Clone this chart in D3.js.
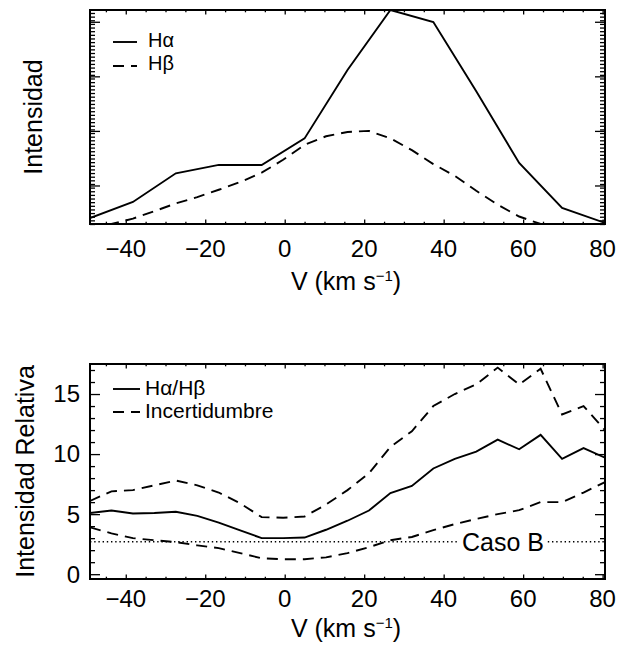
<!DOCTYPE html>
<html><head><meta charset="utf-8">
<script src="https://cdnjs.cloudflare.com/ajax/libs/d3/7.8.5/d3.min.js"></script>
<style>
body{margin:0;background:#fff;}
svg{display:block;}
text{font-family:"Liberation Sans",Arial,sans-serif;fill:#000;}
</style></head><body>
<svg id="c" width="620" height="653"></svg>
<script>
// ---- data ----
const velCoarse = [-49, -38.2, -27.4, -16.6, -5.8, 5, 15.8, 26.6, 37.4, 48.2, 59, 69.8, 80.6];
const haProfile = [0.028, 0.103, 0.237, 0.276, 0.276, 0.40, 0.72, 1.0, 0.944, 0.62, 0.285, 0.075, 0.005];

const velFine = [-49, -43.6, -38.2, -32.8, -27.4, -22, -16.6, -11.2, -5.8, -0.4, 5, 10.4, 15.8,
                 21.2, 26.6, 32, 37.4, 42.8, 48.2, 53.6, 59, 64.4, 69.8, 75.2, 80.6];
const hbProfile = [0, 0, 0.025, 0.06, 0.096, 0.126, 0.16, 0.196, 0.24, 0.30, 0.37, 0.41, 0.43,
                   0.435, 0.40, 0.345, 0.28, 0.225, 0.155, 0.09, 0.035, 0, null, null, null];

const ratio      = [5.1, 5.3, 5.05, 5.1, 5.2, 4.85, 4.3, 3.65, 3.0, 3.0, 3.05, 3.7, 4.45,
                    5.3, 6.75, 7.35, 8.8, 9.6, 10.2, 11.2, 10.4, 11.6, 9.6, 10.5, 9.7];
const ratioUpper = [6.1, 6.9, 7.0, 7.4, 7.8, 7.4, 6.8, 5.9, 4.75, 4.7, 4.8, 5.8, 7.0,
                    8.4, 10.6, 11.9, 14.0, 15.0, 15.8, 17.2, 15.8, 17.1, 13.3, 14.0, 12.0];
const ratioLower = [3.9, 3.4, 3.0, 2.83, 2.67, 2.4, 2.17, 1.75, 1.33, 1.25, 1.25, 1.4, 1.75,
                    2.25, 2.83, 3.1, 3.67, 4.17, 4.6, 5.0, 5.33, 6.0, 6.0, 6.8, 7.67];
const casoB = 2.7;

const xTicks = [-40, -20, 0, 20, 40, 60, 80];
const ratioTicks = [0, 5, 10, 15];
const topYMajor = [0.18, 0.435, 0.69, 0.945];

const legendTop = ["Hα", "Hβ"];
const legendBottom = ["Hα/Hβ", "Incertidumbre"];

// ---- drawing ----
const svg = d3.select("#c");
const L = 90, R = 605;
const P1 = {t: 10, b: 224}, P2 = {t: 364, b: 579};
const xDom = [-49, 80.6];
const x1 = d3.scaleLinear().domain(xDom).range([L, R]);
const y1 = d3.scaleLinear().domain([0, 1]).range([P1.b, P1.t]);
const x2 = d3.scaleLinear().domain(xDom).range([L, R]);
const y2 = d3.scaleLinear().domain([-0.4, 17.5]).range([P2.b, P2.t]);

const fmt = d => d < 0 ? "\u2212" + Math.abs(d) : String(d);
const xMinor = d3.range(-45, 81, 5).filter(v => v % 20 !== 0);

function ticks(g, axisFn, scale, vals, len, tr) {
  const a = axisFn(scale).tickValues(vals).tickSize(len).tickFormat("");
  const s = g.append("g").attr("transform", tr).call(a);
  s.select(".domain").remove();
  s.selectAll("line").attr("stroke", "#000").attr("stroke-width", 1.3);
}

function frame(x, y, P, yMajor, yMinor, id) {
  const g = svg.append("g");
  ticks(g, d3.axisBottom, x, xTicks, -4.5, `translate(0,${P.b})`);
  ticks(g, d3.axisBottom, x, xMinor, -2.3, `translate(0,${P.b})`);
  ticks(g, d3.axisTop, x, xTicks, -4.5, `translate(0,${P.t})`);
  ticks(g, d3.axisTop, x, xMinor, -2.3, `translate(0,${P.t})`);
  ticks(g, d3.axisLeft, y, yMajor, -10, `translate(${L},0)`);
  ticks(g, d3.axisLeft, y, yMinor, -5, `translate(${L},0)`);
  ticks(g, d3.axisRight, y, yMajor, -10, `translate(${R},0)`);
  ticks(g, d3.axisRight, y, yMinor, -5, `translate(${R},0)`);
  g.append("rect").attr("x", L).attr("y", P.t).attr("width", R - L).attr("height", P.b - P.t)
    .attr("fill", "none").attr("stroke", "#000").attr("stroke-width", 2);
  svg.append("clipPath").attr("id", id).append("rect")
    .attr("x", L).attr("y", P.t).attr("width", R - L).attr("height", P.b - P.t);
}

// Top panel
const topMinor = d3.range(0, 1.0001, 0.017);
frame(x1, y1, P1, topYMajor, topMinor, "clip1");
const gTop = svg.append("g").attr("clip-path", "url(#clip1)");
const lineTop = d3.line().defined(d => d[1] !== null).x(d => x1(d[0])).y(d => y1(d[1]));
gTop.append("path").datum(velCoarse.map((v, i) => [v, haProfile[i]]))
  .attr("d", lineTop).attr("fill", "none").attr("stroke", "#000").attr("stroke-width", 1.9);
gTop.append("path").datum(velFine.map((v, i) => [v, hbProfile[i]]))
  .attr("d", lineTop).attr("fill", "none").attr("stroke", "#000").attr("stroke-width", 1.9)
  .attr("stroke-dasharray", "11,7");

// Bottom panel
const botMinor = d3.range(0, 18, 1).filter(v => v % 5 !== 0);
frame(x2, y2, P2, ratioTicks, botMinor, "clip2");
const gBot = svg.append("g").attr("clip-path", "url(#clip2)");
const lineBot = d3.line().x(d => x2(d[0])).y(d => y2(d[1]));
gBot.append("line").attr("x1", L).attr("x2", R).attr("y1", y2(casoB)).attr("y2", y2(casoB))
  .attr("stroke", "#000").attr("stroke-width", 1.4).attr("stroke-dasharray", "1.4,2.8");
[ratioUpper, ratioLower].forEach(arr => {
  gBot.append("path").datum(velFine.map((v, i) => [v, arr[i]]))
    .attr("d", lineBot).attr("fill", "none").attr("stroke", "#000").attr("stroke-width", 1.9)
    .attr("stroke-dasharray", "11,7");
});
gBot.append("path").datum(velFine.map((v, i) => [v, ratio[i]]))
  .attr("d", lineBot).attr("fill", "none").attr("stroke", "#000").attr("stroke-width", 1.9);

// Caso B label
const cb = svg.append("g");
const cbBg = cb.append("rect").attr("fill", "#fff");
const cbT = cb.append("text").attr("x", 503).attr("y", y2(casoB) + 9)
  .attr("text-anchor", "middle").attr("font-size", 25).text("Caso B");
const bb = cbT.node().getBBox();
cbBg.attr("x", bb.x - 3).attr("y", y2(casoB) - 3).attr("width", bb.width + 6).attr("height", 6);

// Tick labels
function xLabels(x, base) {
  svg.append("g").selectAll("text").data(xTicks).join("text")
    .attr("x", d => x(d)).attr("y", base).attr("text-anchor", "middle")
    .attr("font-size", 24).text(fmt);
}
xLabels(x1, 257);
xLabels(x2, 607);
svg.append("g").selectAll("text").data(ratioTicks).join("text")
  .attr("x", 80).attr("y", d => y2(d)).attr("dy", "0.35em").attr("text-anchor", "end")
  .attr("font-size", 24).text(fmt);

// Axis titles
function xTitle(base) {
  const t = svg.append("text").attr("x", 346).attr("y", base).attr("text-anchor", "middle")
    .attr("font-size", 25);
  t.append("tspan").text("V (km s");
  t.append("tspan").attr("dy", -9).attr("font-size", 15).text("\u22121");
  t.append("tspan").attr("dy", 9).text(")");
}
xTitle(290);
xTitle(637);
svg.append("text").attr("transform", `translate(33,${(P1.t + P1.b) / 2}) rotate(-90)`)
  .attr("text-anchor", "middle").attr("dy", "0.35em").attr("font-size", 25).text("Intensidad");
svg.append("text").attr("transform", `translate(25,${(P2.t + P2.b) / 2}) rotate(-90)`)
  .attr("text-anchor", "middle").attr("dy", "0.35em").attr("font-size", 25).text("Intensidad Relativa");

// Legends
function legend(items, x0, x1l, tx, lineYs, baseYs, fs) {
  const g = svg.append("g");
  g.selectAll("line").data(items).join("line")
    .attr("x1", x0).attr("x2", x1l).attr("y1", (d, i) => lineYs[i]).attr("y2", (d, i) => lineYs[i])
    .attr("stroke", "#000").attr("stroke-width", 1.9)
    .attr("stroke-dasharray", (d, i) => i === 0 ? null : "11,7");
  g.selectAll("text").data(items).join("text")
    .attr("x", tx).attr("y", (d, i) => baseYs[i]).attr("font-size", fs).text(d => d);
}
legend(legendTop, 113, 137, 148, [42, 66], [47, 70], 20);
legend(legendBottom, 113, 140, 145, [389, 412], [395, 418], 21);
</script>
</body></html>
